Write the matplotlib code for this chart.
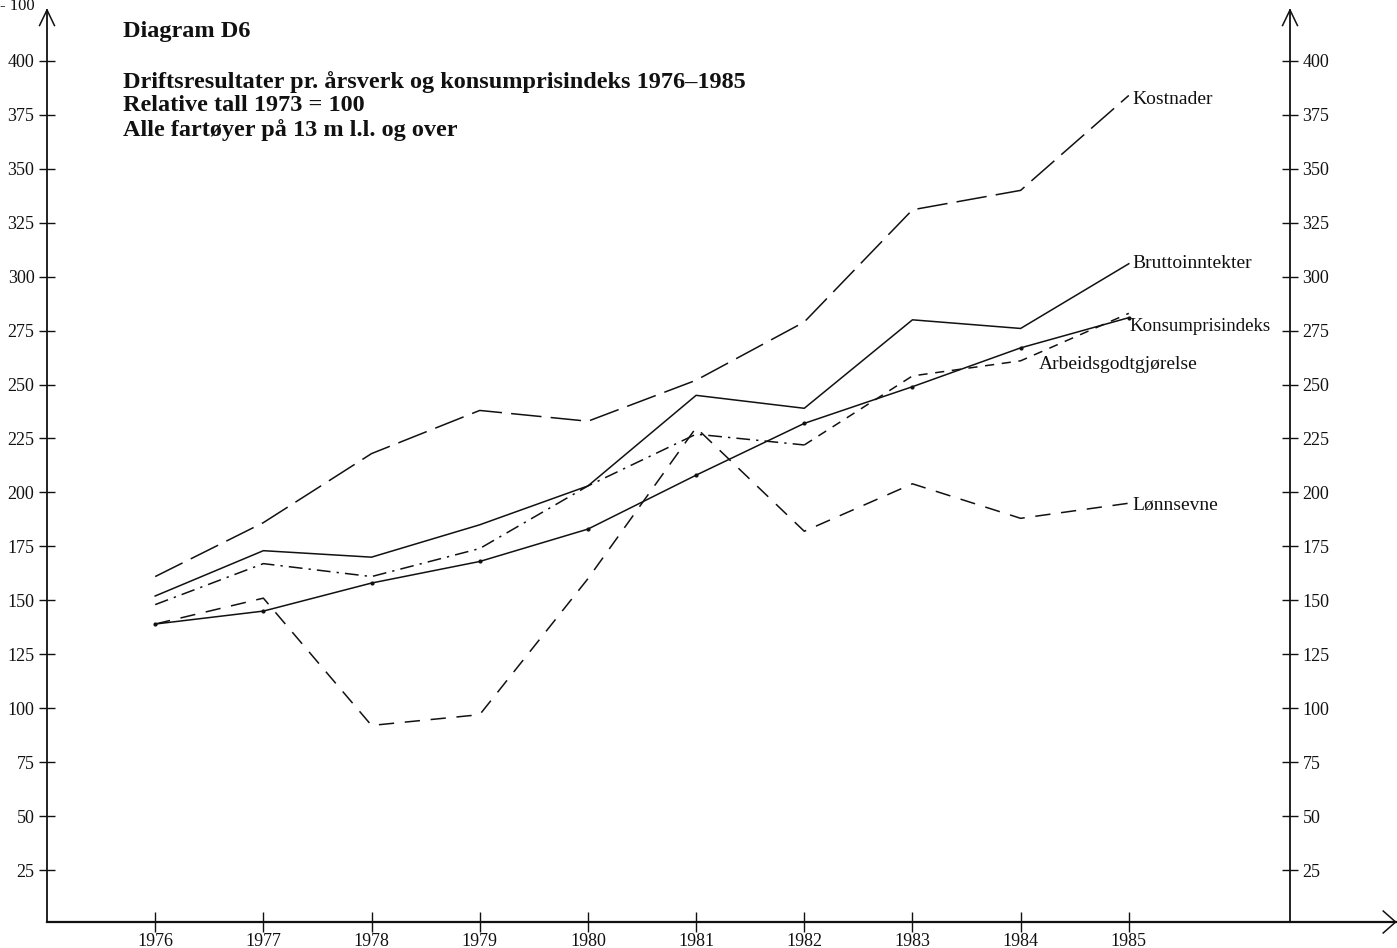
import numpy as np
import matplotlib.pyplot as plt

# --- data (relative, 1973 = 100) ---
years = [1976, 1977, 1978, 1979, 1980, 1981, 1982, 1983, 1984, 1985]
kostnader = [161, 186, 218, 238, 233, 252, 279, 331, 340, 384]
bruttoinntekter = [152, 173, 170, 185, 203, 245, 239, 280, 276, 306]
konsumpris = [139, 145, 158, 168, 183, 208, 232, 249, 267, 281]
arbeidsgodtgj = [148, 167, 161, 174, 203, 227, 222, 254, 261, 283]
lonnsevne = [139, 151, 92, 97, 160, 230, 182, 204, 188, 195]

yticks = list(range(25, 401, 25))

plt.rcParams['font.family'] = ['Liberation Serif', 'DejaVu Serif']
ink = '#111111'

fig = plt.figure(figsize=(13.97, 9.48), dpi=100)
ax = fig.add_axes([47 / 1397, 26 / 948, (1290 - 47) / 1397, (922 - 10) / 948])
ax.set_xlim(1975.0, 1986.49)
ax.set_ylim(0.9, 423.6)

lw = 1.1
ax.plot(years, kostnader, color=ink, lw=lw, dashes=(20, 6))
ax.plot(years, bruttoinntekter, color=ink, lw=lw)
ax.plot(years, konsumpris, color=ink, lw=lw, marker='o', ms=2)
# Arbeidsgodtgjørelse: dash-dot until 1982, short dashes after
ax.plot(years[:7], arbeidsgodtgj[:7], color=ink, lw=lw, dashes=(9, 4, 1.5, 4))
ax.plot(years[6:], arbeidsgodtgj[6:], color=ink, lw=lw, dashes=(6, 5))
ax.plot(years, lonnsevne, color=ink, lw=lw, dashes=(10, 7))

# series labels at the right end
lab = dict(fontsize=14, color=ink, va='center')
ax.text(1985.03, 382, 'Kostnader', **lab)
ax.text(1985.03, bruttoinntekter[-1], 'Bruttoinntekter', **lab)
ax.text(1985.01, 277, 'Konsumprisindeks', fontsize=13.6, color=ink, va='center')
ax.text(1984.17, 259.5, 'Arbeidsgodtgjørelse', **lab)
ax.text(1985.03, 194, 'Lønnsevne', **lab)

# axes styling
for s in ['top', 'bottom']:
    ax.spines[s].set_visible(False)
ax.spines['left'].set_color(ink)
ax.spines['right'].set_color(ink)
ax.spines['left'].set_linewidth(1.3)
ax.spines['right'].set_linewidth(1.3)

ax.set_yticks(yticks)
ax.set_yticklabels([str(v) for v in yticks])
ax.tick_params(axis='y', which='both', direction='inout', length=12, width=1,
               labelsize=13, colors=ink, left=True, right=True,
               labelleft=True, labelright=True, pad=3)
ax.set_xticks(years)
ax.set_xticklabels([str(y) for y in years])
ax.tick_params(axis='x', direction='inout', length=14, width=1, labelsize=13,
               colors=ink, pad=1)

# bottom axis line extending past right axis, with arrow heads
ax.plot([0, 1.085], [0, 0], transform=ax.transAxes, color=ink, lw=1.6, clip_on=False)
ax.plot([1.075, 1.085, 1.075], [0.012, 0, -0.012], transform=ax.transAxes,
        color=ink, lw=1.1, clip_on=False)
for xa in [0, 1]:
    ax.plot([xa - 0.006, xa, xa + 0.006], [0.983, 1.0, 0.983], transform=ax.transAxes,
            color=ink, lw=1.1, clip_on=False)

# partly cut label at the very top left (as in the original scan)
fig.text(0.0, 1 - 6 / 948, '- 100', fontsize=12, color=ink, ha='left', va='center')

# titles
fig.text(123 / 1397, 1 - 31 / 948, 'Diagram D6', fontsize=17.5, fontweight='bold',
         color=ink, va='center')
title = ('Driftsresultater pr. årsverk og konsumprisindeks 1976–1985\n'
         'Relative tall 1973 = 100\n'
         'Alle fartøyer på 13 m l.l. og over')
fig.text(123 / 1397, 1 - 71 / 948, title, fontsize=17.5, fontweight='bold',
         color=ink, va='top', linespacing=1.15)

fig.savefig('out.png', dpi=100)
